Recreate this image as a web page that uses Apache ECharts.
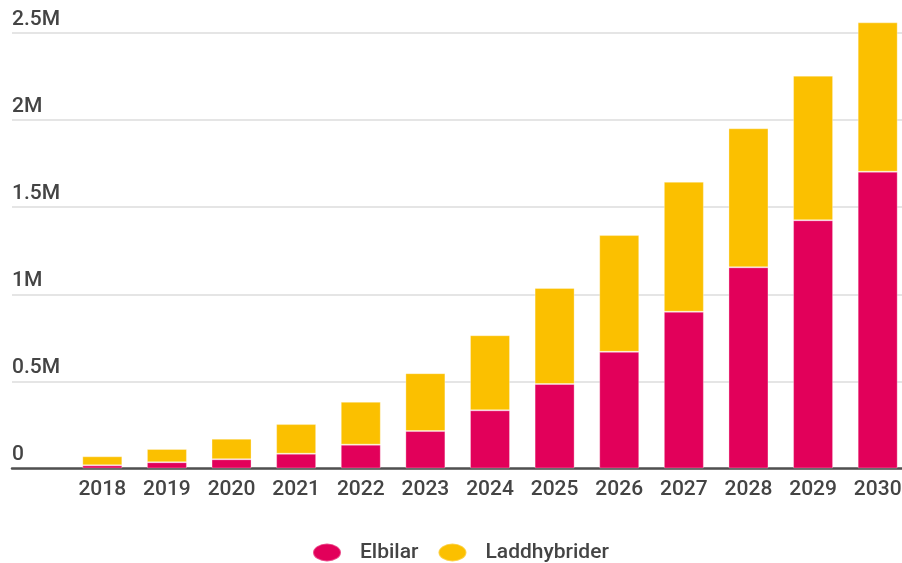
<!DOCTYPE html>
<html>
<head>
<meta charset="utf-8">
<script src="https://cdn.jsdelivr.net/npm/echarts@6/dist/echarts.min.js"></script>
<style>
html,body{margin:0;padding:0;background:#fff;}
#chart{width:902px;height:563px;}
</style>
</head>
<body>
<div id="chart"></div>
<script>
const years = ['2018','2019','2020','2021','2022','2023','2024','2025','2026','2027','2028','2029','2030'];
const elbilar = [18000, 36000, 53000, 85000, 137000, 215000, 334000, 485000, 670000, 900000, 1155000, 1425000, 1704000];
const laddhybrider = [52000, 76000, 118000, 170000, 246000, 332000, 431000, 551000, 670000, 746000, 798000, 830000, 857000];
const yTicks = [0, 500000, 1000000, 1500000, 2000000, 2500000];
const seriesNames = ['Elbilar', 'Laddhybrider'];
const colors = ['#E2005A', '#FBC000'];

const fmt = v => v === 0 ? '0' : (v / 1000000) + 'M';
const font = 'Roboto';
const ellipse = 'path://M50,0A50,50,0,1,1,50,100A50,50,0,1,1,50,0Z';

const chart = echarts.init(document.getElementById('chart'), null, {renderer: 'canvas'});
chart.setOption({
  animation: false,
  backgroundColor: '#ffffff',
  grid: [
    {left: 12, right: 0, top: 33, bottom: 94.5, containLabel: false, outerBoundsMode: 'none'},
    {left: 70, width: 840, top: 33, bottom: 94.5, containLabel: false, outerBoundsMode: 'none'}
  ],
  xAxis: [
    {gridIndex: 0, type: 'value', min: 0, max: 1, show: true,
     axisLine: {show: true, onZero: false, lineStyle: {color: '#505050', width: 2.5}},
     axisTick: {show: false}, axisLabel: {show: false}, splitLine: {show: false}},
    {gridIndex: 1, type: 'category', data: years,
     axisLine: {show: false}, axisTick: {show: false},
     axisLabel: {color: '#444444', fontFamily: font, fontWeight: 500, fontSize: 21, margin: 11}}
  ],
  yAxis: [
    {gridIndex: 0, type: 'value', min: yTicks[0], max: yTicks[yTicks.length - 1], interval: yTicks[1] - yTicks[0],
     axisLine: {show: false}, axisTick: {show: false},
     splitLine: {show: true, lineStyle: {color: '#dddddd', width: 1.5}},
     axisLabel: {inside: true, align: 'left', verticalAlign: 'bottom', margin: 0, padding: [0, 0, 3, 0],
       color: '#444444', fontFamily: font, fontWeight: 500, fontSize: 21, formatter: fmt}},
    {gridIndex: 1, type: 'value', min: yTicks[0], max: yTicks[yTicks.length - 1], interval: yTicks[1] - yTicks[0],
     show: false, splitLine: {show: false}}
  ],
  legend: {
    left: 307, top: 537, itemWidth: 28, itemHeight: 18, itemGap: 19, icon: ellipse, symbolKeepAspect: false,
    textStyle: {color: '#444444', fontFamily: font, fontWeight: 500, fontSize: 21, padding: [0, 0, 0, 14]},
    data: seriesNames
  },
  series: [
    {name: seriesNames[0], type: 'bar', stack: 'total', xAxisIndex: 1, yAxisIndex: 1, barWidth: 40, clip: false,
     itemStyle: {color: colors[0], borderColor: 'rgba(255,255,255,0.3)', borderWidth: 1}, data: elbilar},
    {name: seriesNames[1], type: 'bar', stack: 'total', xAxisIndex: 1, yAxisIndex: 1, barWidth: 40, clip: false,
     itemStyle: {color: colors[1], borderColor: 'rgba(255,255,255,0.3)', borderWidth: 1}, data: laddhybrider}
  ]
});
</script>
</body>
</html>
